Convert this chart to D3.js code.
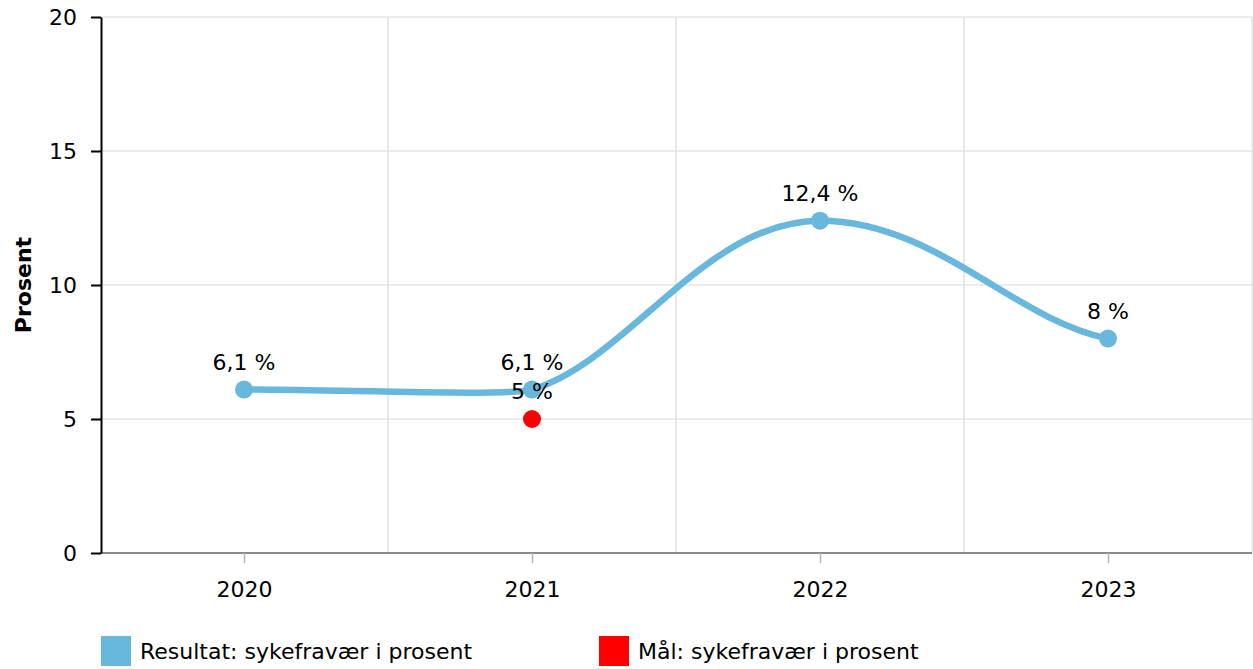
<!DOCTYPE html>
<html><head><meta charset="utf-8">
<script src="https://cdn.jsdelivr.net/npm/d3@7"></script>
<style>
body{margin:0;background:#fff}
svg{display:block}
text{font-family:"DejaVu Sans",Verdana,sans-serif;fill:#000}
</style></head>
<body><svg id="chart" width="1253" height="669"></svg>
<script>
// ---- data ----
const years = ["2020", "2021", "2022", "2023"];
const resultValues = [6.1, 6.1, 12.4, 8];
const targetValues = [null, 5, null, null];
const yTickValues = [0, 5, 10, 15, 20];
const seriesNames = ["Resultat: sykefravær i prosent", "Mål: sykefravær i prosent"];
const yTitle = "Prosent";

(function () {
// ---- layout / style ----
const pLeft = 101, pRight = 1252, pTop = 17, pBottom = 553;
const FS = 22;
const blue = "#68b7dc", red = "#ff0000";

const svg = d3.select("#chart");
const x = d3.scalePoint().domain(years).range([100, pRight]).padding(0.5);
const y = d3.scaleLinear().domain([0, 20]).range([pBottom, pTop]);
const loc = d3.formatLocale({decimal: ",", thousands: " ", grouping: [3], currency: ["", " kr"]});
const fmt = loc.format("~g");

// smooth curve: horizontal tangent at extrema, softly clamped tangents elsewhere
function SmoothCurve(context) { this._context = context; }
SmoothCurve.prototype = {
  areaStart() { this._line = 0; }, areaEnd() { this._line = NaN; },
  lineStart() { this._pts = []; },
  point(px, py) { this._pts.push([+px, +py]); },
  lineEnd() {
    const p = this._pts, n = p.length, c = this._context;
    if (!n) return;
    c.moveTo(p[0][0], p[0][1]);
    if (n < 3) { for (let i = 1; i < n; i++) c.lineTo(p[i][0], p[i][1]); return; }
    const Lc = [], Rc = [];
    const soft = (h0, p0y, lim, m) => Math.max(m ? Math.abs((p0y - lim) / m) : h0, h0 * 0.25);
    for (let i = 0; i < n; i++) {
      let m, wt = 1 / 3;
      if (i === 0) m = 0.5 * (p[1][1] - p[0][1]) / (p[1][0] - p[0][0]);
      else if (i === n - 1) m = 0.5 * (p[i][1] - p[i - 1][1]) / (p[i][0] - p[i - 1][0]);
      else {
        const a = p[i - 1][1], b = p[i][1], d = p[i + 1][1];
        if ((b > a && b > d) || (b < a && b < d)) { m = 0; wt = 0.4; }
        else m = (d - a) / (p[i + 1][0] - p[i - 1][0]);
      }
      if (i > 0) {
        let h = (p[i][0] - p[i - 1][0]) * wt, yy = p[i][1] - h * m;
        const lo = Math.min(p[i - 1][1], p[i][1]), hi = Math.max(p[i - 1][1], p[i][1]);
        if (yy < lo || yy > hi) { h = soft(h, p[i][1], yy < lo ? lo : hi, m); yy = p[i][1] - h * m; }
        Lc[i] = [p[i][0] - h, yy];
      }
      if (i < n - 1) {
        let h = (p[i + 1][0] - p[i][0]) * wt, yy = p[i][1] + h * m;
        const lo = Math.min(p[i + 1][1], p[i][1]), hi = Math.max(p[i + 1][1], p[i][1]);
        if (yy < lo || yy > hi) { h = soft(h, p[i][1], yy < lo ? lo : hi, m); yy = p[i][1] + h * m; }
        Rc[i] = [p[i][0] + h, yy];
      }
    }
    for (let i = 1; i < n; i++) c.bezierCurveTo(Rc[i - 1][0], Rc[i - 1][1], Lc[i][0], Lc[i][1], p[i][0], p[i][1]);
  }
};
const smooth = ctx => new SmoothCurve(ctx);

// ---- grid ----
const grid = svg.append("g");
grid.selectAll("line.h").data(yTickValues.filter(v => v > 0)).join("line")
  .attr("x1", pLeft).attr("x2", pRight).attr("y1", d => y(d)).attr("y2", d => y(d))
  .attr("stroke", "#dadada").attr("stroke-width", 1.2);
grid.selectAll("line.v").data(years).join("line")
  .attr("x1", d => x(d) + x.step() / 2).attr("x2", d => x(d) + x.step() / 2)
  .attr("y1", pTop).attr("y2", pBottom)
  .attr("stroke", "#dadada").attr("stroke-width", 1.2);

// ---- x axis ----
const xAxis = svg.append("g").attr("transform", `translate(0,${pBottom})`)
  .call(d3.axisBottom(x).tickSize(10).tickSizeOuter(0).tickPadding(18));
xAxis.select(".domain").attr("stroke", "#8a8a8a").attr("stroke-width", 2).attr("d", `M${pLeft},0H${pRight}`);
xAxis.selectAll(".tick line").attr("stroke", "#b5b5b5").attr("stroke-width", 1.5);
xAxis.selectAll("text").attr("font-size", FS).attr("font-family", "DejaVu Sans");

// ---- y axis ----
const yAxis = svg.append("g").attr("transform", `translate(${pLeft},0)`)
  .call(d3.axisLeft(y).tickValues(yTickValues).tickSize(10).tickSizeOuter(0).tickPadding(14));
yAxis.select(".domain").attr("stroke", "#000").attr("stroke-width", 2);
yAxis.selectAll(".tick line").attr("stroke", "#000").attr("stroke-width", 2);
yAxis.selectAll("text").attr("font-size", FS).attr("font-family", "DejaVu Sans");

svg.append("text").attr("transform", `translate(31,${(pTop + pBottom) / 2}) rotate(-90)`)
  .attr("text-anchor", "middle").attr("font-size", FS).attr("font-weight", "bold").text(yTitle);

// ---- result line ----
const resData = years.map((yr, i) => ({yr, v: resultValues[i]}));
svg.append("path").datum(resData)
  .attr("d", d3.line().x(d => x(d.yr)).y(d => y(d.v)).curve(smooth))
  .attr("fill", "none").attr("stroke", blue).attr("stroke-width", 6.5).attr("stroke-linecap", "round");
svg.selectAll("circle.res").data(resData).join("circle")
  .attr("cx", d => x(d.yr)).attr("cy", d => y(d.v)).attr("r", 9).attr("fill", blue);

// ---- target points ----
const tgtData = years.map((yr, i) => ({yr, v: targetValues[i]})).filter(d => d.v != null);
svg.selectAll("circle.tgt").data(tgtData).join("circle")
  .attr("cx", d => x(d.yr)).attr("cy", d => y(d.v)).attr("r", 9).attr("fill", red);

// ---- labels ----
svg.selectAll("text.lab").data(resData.concat(tgtData)).join("text")
  .attr("x", d => x(d.yr)).attr("y", d => y(d.v) - 20)
  .attr("text-anchor", "middle").attr("font-size", FS).text(d => fmt(d.v) + " %");

// ---- legend ----
const legX = [101, 599];
const leg = svg.selectAll("g.leg").data(seriesNames).join("g")
  .attr("transform", (d, i) => `translate(${legX[i]},636)`);
leg.append("rect").attr("width", 30).attr("height", 30).attr("fill", (d, i) => [blue, red][i]);
leg.append("text").attr("x", 39).attr("y", 23).attr("font-size", FS).text(d => d);
})();
</script></body></html>
